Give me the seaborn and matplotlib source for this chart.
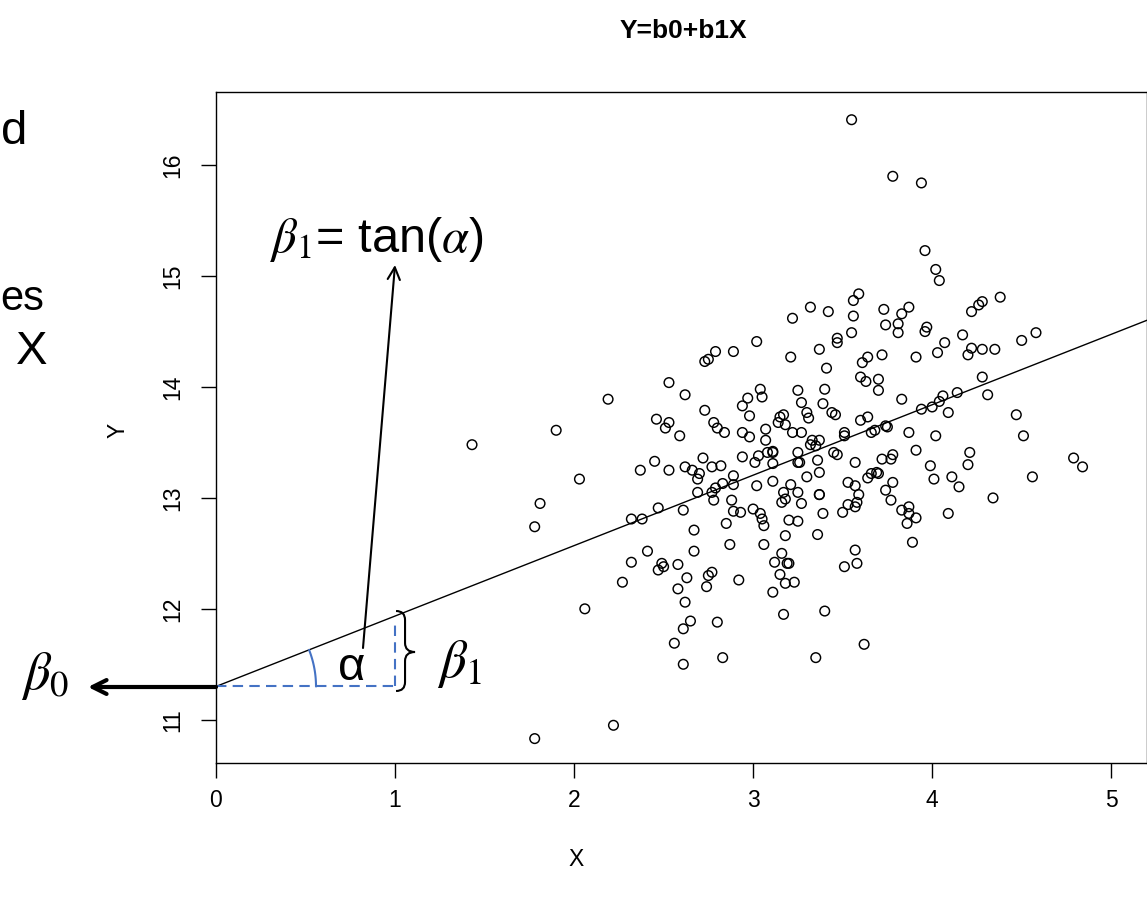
import numpy as np
import pandas as pd
import matplotlib
matplotlib.use("Agg")
import matplotlib.pyplot as plt
import seaborn as sns
from matplotlib.path import Path
from matplotlib.patches import PathPatch
from matplotlib.lines import Line2D
from matplotlib.transforms import IdentityTransform

# ---------------- data ----------------
x_values = [
    3.55, 3.78, 3.94, 3.96, 4.02, 4.04, 4.38, 4.22, 4.26, 4.28, 3.73, 3.83, 3.87, 3.32, 3.42, 3.56, 3.59, 3.56, 3.22,
    1.43, 1.90, 2.19, 2.03, 1.81, 1.78, 2.53, 2.46, 2.51, 2.53, 2.37, 2.45, 2.53, 2.32, 2.38, 2.47,
    3.02, 3.47, 3.47, 3.55, 2.79, 2.73, 2.75, 2.89, 3.21, 3.37, 3.41, 3.61, 3.64, 3.60, 3.63,
    2.62, 2.73, 2.59, 2.78, 2.80, 2.84, 2.94, 2.98, 2.97, 2.94, 2.98, 3.04, 3.05, 3.25, 3.40, 3.27, 3.30, 3.31,
    3.39, 3.44, 3.46, 3.15, 3.17, 3.14, 3.18, 3.07, 3.22, 3.27, 3.07, 3.11, 3.11, 3.08, 3.03, 3.01, 2.94, 3.11,
    3.33, 3.35, 3.37, 3.32, 3.25, 3.25, 3.26, 3.36, 3.37, 3.30, 3.51, 3.51, 3.45, 3.47, 3.60, 3.64, 3.66, 3.57,
    2.72, 2.62, 2.66, 2.70, 2.69, 2.77, 2.82, 2.89, 2.89, 2.83, 2.79, 2.77, 2.78, 2.69, 2.61, 2.67, 3.02, 3.11,
    2.88, 2.89, 2.93, 3.00, 3.04, 3.05, 3.06, 2.85, 3.17, 3.18, 3.21, 3.25, 3.27, 3.16, 3.20, 3.25, 3.37, 3.37,
    3.39, 3.36, 3.18, 3.53, 3.57, 3.59, 3.50, 3.53, 3.57, 3.58, 3.64, 3.66, 3.69,
    3.74, 3.81, 3.81, 3.97, 3.96, 4.17, 4.07, 4.03, 4.22, 4.20, 4.28, 4.35, 4.50, 4.58, 3.72, 3.91, 3.70, 3.70,
    3.83, 4.28, 4.31, 4.14, 4.06, 4.04, 4.00, 3.94, 4.09, 3.74, 3.75, 3.68, 3.87, 4.02, 3.91, 4.47, 4.51, 4.21,
    4.20, 3.72, 3.78, 3.77, 3.70, 3.99, 4.01, 4.11, 4.15, 4.56, 4.79, 4.84, 3.78, 3.74, 3.77, 4.34, 3.83, 3.87,
    3.91, 3.87, 3.86, 4.09, 3.89,
    2.67, 2.87, 3.06, 3.57, 3.58, 3.51, 2.58, 2.63, 2.58, 2.62, 2.77, 2.75, 2.74, 2.92, 3.16, 3.12, 3.19, 3.20,
    3.15, 3.18, 3.23, 3.11, 3.17, 3.40, 2.65, 2.61, 2.56, 2.80, 2.61, 2.83, 3.35, 3.62,
    2.41, 2.32, 2.49, 2.47, 2.50, 2.27, 2.06, 2.22, 1.78,
]
y_values = [
    16.41, 15.90, 15.84, 15.23, 15.06, 14.96, 14.81, 14.68, 14.74, 14.77, 14.70, 14.66, 14.72, 14.72, 14.68, 14.78, 14.84, 14.64, 14.62,
    13.48, 13.61, 13.89, 13.17, 12.95, 12.74, 14.04, 13.71, 13.63, 13.68, 13.25, 13.33, 13.25, 12.81, 12.81, 12.91,
    14.41, 14.44, 14.40, 14.49, 14.32, 14.23, 14.25, 14.32, 14.27, 14.34, 14.17, 14.22, 14.27, 14.09, 14.05,
    13.93, 13.79, 13.56, 13.68, 13.63, 13.59, 13.59, 13.55, 13.90, 13.83, 13.74, 13.98, 13.91, 13.97, 13.98, 13.86, 13.77, 13.72,
    13.85, 13.77, 13.75, 13.73, 13.75, 13.68, 13.66, 13.62, 13.59, 13.59, 13.52, 13.42, 13.41, 13.41, 13.38, 13.32, 13.37, 13.31,
    13.52, 13.47, 13.52, 13.48, 13.41, 13.32, 13.32, 13.34, 13.23, 13.19, 13.59, 13.56, 13.41, 13.39, 13.70, 13.73, 13.59, 13.32,
    13.36, 13.28, 13.25, 13.22, 13.17, 13.28, 13.29, 13.20, 13.12, 13.13, 13.09, 13.05, 12.98, 13.05, 12.89, 12.71, 13.11, 13.15,
    12.98, 12.88, 12.87, 12.90, 12.86, 12.81, 12.75, 12.77, 13.05, 12.99, 13.12, 13.05, 12.95, 12.96, 12.80, 12.79, 13.03, 13.03,
    12.86, 12.67, 12.66, 13.14, 13.11, 13.03, 12.87, 12.94, 12.92, 12.96, 13.18, 13.22, 13.23,
    14.56, 14.57, 14.49, 14.54, 14.50, 14.47, 14.40, 14.31, 14.35, 14.29, 14.34, 14.34, 14.42, 14.49, 14.29, 14.27, 14.07, 13.97,
    13.89, 14.09, 13.93, 13.95, 13.92, 13.87, 13.82, 13.80, 13.77, 13.65, 13.64, 13.61, 13.59, 13.56, 13.43, 13.75, 13.56, 13.41,
    13.30, 13.35, 13.39, 13.35, 13.22, 13.29, 13.17, 13.19, 13.10, 13.19, 13.36, 13.28, 13.14, 13.07, 12.98, 13.00, 12.89, 12.92,
    12.82, 12.86, 12.77, 12.86, 12.60,
    12.52, 12.58, 12.58, 12.53, 12.41, 12.38, 12.40, 12.28, 12.18, 12.06, 12.33, 12.30, 12.20, 12.26, 12.50, 12.42, 12.41, 12.41,
    12.31, 12.23, 12.24, 12.15, 11.95, 11.98, 11.89, 11.82, 11.69, 11.88, 11.50, 11.56, 11.56, 11.68,
    12.52, 12.42, 12.41, 12.35, 12.38, 12.24, 12.00, 10.95, 10.83,
]
intercept_b0 = 11.30
slope_b1 = 0.635
x_ticks = [0, 1, 2, 3, 4, 5]
y_ticks = [11, 12, 13, 14, 15, 16]
title_text = "Y=b0+b1X"

# ---------------- figure ----------------
W, H = 1147, 902
sns.set_theme(style="white")
plt.rcParams['font.family'] = ['Liberation Sans', 'DejaVu Sans']
plt.rcParams['mathtext.fontset'] = 'stix'
plt.rcParams['text.color'] = 'black'
plt.rcParams['axes.labelcolor'] = 'black'
plt.rcParams['xtick.color'] = 'black'
plt.rcParams['ytick.color'] = 'black'

fig = plt.figure(figsize=(W / 100, H / 100), dpi=100)
fig.patch.set_facecolor('white')
ax = fig.add_axes([216 / W, 1 - 763 / H, (1147 - 216) / W, (763 - 92) / H])
ax.set_facecolor('white')

df = pd.DataFrame({'X': x_values, 'Y': y_values})
sns.scatterplot(data=df, x='X', y='Y', ax=ax, marker='o', s=48, color='black',
                facecolors='none', edgecolor='black', linewidth=1.05, zorder=3)
ax.axline((0, intercept_b0), slope=slope_b1, color='black', lw=1.0, zorder=2)

ax.set_xlim(0, 5.2)
ax.set_ylim(10.61, 16.66)
ax.set_xticks(x_ticks)
ax.set_yticks(y_ticks)
ax.set_xticklabels([str(t) for t in x_ticks], fontsize=16.5, color='black')
ax.set_yticklabels([str(t) for t in y_ticks], fontsize=16.5, color='black',
                   rotation=90, va='center')
ax.tick_params(axis='both', direction='out', length=11, width=1, color='black',
               bottom=True, left=True, labelcolor='black')
ax.tick_params(axis='x', pad=8)
ax.tick_params(axis='y', pad=12)
for sp in ax.spines.values():
    sp.set_color('black')
    sp.set_linewidth(1.0)
ax.set_xlabel('')
ax.set_ylabel('')

def fp(px, py):
    return (px / W, 1 - py / H)

fig.text(*fp(683, 31), title_text, fontweight='bold', fontsize=19,
         ha='center', va='center', color='black')
fig.text(*fp(576, 860), 'X', fontsize=16.5, ha='center', va='center', color='black')
fig.text(*fp(118, 430), 'Y', fontsize=16.5, ha='center', va='center', rotation=90,
         color='black')

# ---------------- annotations ----------------
blue = '#4472C4'
ax.plot([0, 1], [intercept_b0, intercept_b0], color=blue, lw=1.5, ls=(0, (5, 3)),
        zorder=2, clip_on=False)
ax.plot([1, 1], [intercept_b0, intercept_b0 + slope_b1 - 0.08], color=blue, lw=1.5,
        ls=(0, (5, 3)), zorder=2)

fig.canvas.draw()
p0 = ax.transData.transform((0, intercept_b0))
p1 = ax.transData.transform((1, intercept_b0 + slope_b1))
ang = np.arctan2(p1[1] - p0[1], p1[0] - p0[0])
t = np.linspace(0, ang, 40)
r = 100
arc = Line2D(p0[0] + r * np.cos(t), p0[1] + r * np.sin(t), color=blue, lw=1.5,
             transform=IdentityTransform())
fig.add_artist(arc)

fig.text(*fp(352, 668), 'α', fontsize=34, ha='center', va='center', color='black')

# brace
bx = p1[0]
ytop = H - 611
ybot = H - 691
ymid = H - 652
verts = [
    (bx + 1, ytop), (bx + 10, ytop), (bx + 10, ytop - 9),
    (bx + 10, ymid + 9),
    (bx + 10, ymid), (bx + 20, ymid), (bx + 20, ymid),
    (bx + 10, ymid), (bx + 10, ymid - 9),
    (bx + 10, ybot + 9),
    (bx + 10, ybot), (bx + 1, ybot), (bx + 1, ybot),
]
codes = [Path.MOVETO, Path.CURVE3, Path.CURVE3, Path.LINETO,
         Path.CURVE3, Path.CURVE3, Path.LINETO,
         Path.CURVE3, Path.CURVE3, Path.LINETO,
         Path.CURVE3, Path.CURVE3, Path.LINETO]
brace = PathPatch(Path(verts, codes), fc='none', ec='black', lw=1.5,
                  transform=IdentityTransform())
fig.add_artist(brace)
fig.text(*fp(460, 664), r'$\beta_1$', fontsize=38, ha='center', va='center', color='black')

# beta1 = tan(alpha) arrow
ax.annotate('', xy=(395, H - 265), xycoords='figure pixels',
            xytext=(363, H - 648), textcoords='figure pixels',
            arrowprops=dict(arrowstyle='->', color='black', lw=1.5,
                            mutation_scale=22, shrinkA=0, shrinkB=0))
fig.text(*fp(270, 240), r'$\beta_1$= tan($\alpha$)', fontsize=35, ha='left', va='center',
         color='black')

# beta0 arrow
ax.annotate('', xy=(88, H - 687), xycoords='figure pixels',
            xytext=(216, H - 687), textcoords='figure pixels',
            arrowprops=dict(arrowstyle='->', color='black', lw=3,
                            mutation_scale=25, shrinkA=0, shrinkB=0))
fig.text(*fp(45, 676), r'$\beta_0$', fontsize=38, ha='center', va='center', color='black')

# clipped text on the left edge
fig.text(*fp(27, 144), 'd', fontsize=34, ha='right', va='baseline', color='black')
fig.text(*fp(0, 310), 'es', fontsize=30, ha='left', va='baseline', color='black')
fig.text(*fp(16, 364), 'X', fontsize=34, ha='left', va='baseline', color='black')

fig.savefig('out.png', dpi=100, facecolor='white')
